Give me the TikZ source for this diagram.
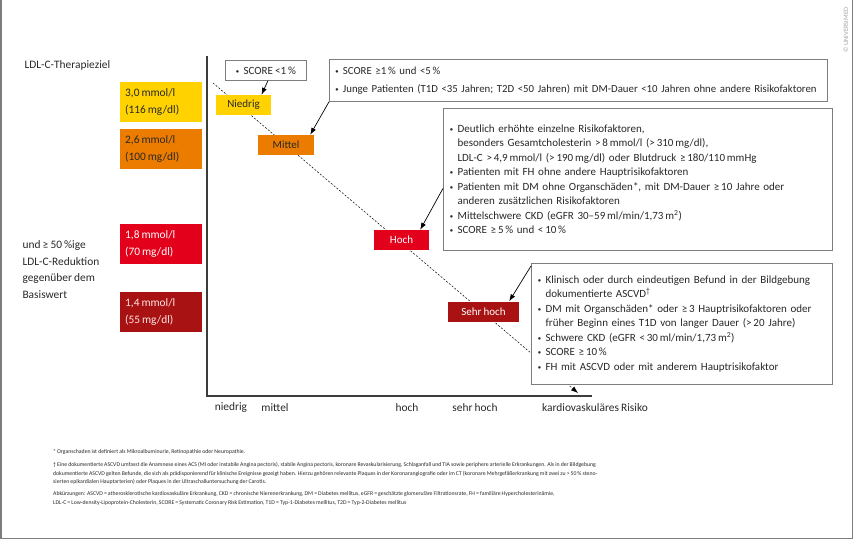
\documentclass[tikz,border=0pt]{standalone}
\usepackage{fontspec}
\setmainfont{Carlito}[WordSpace=0.85]
\usepackage{tikz}
\usetikzlibrary{arrows.meta,positioning,calc}
\definecolor{txtgray}{RGB}{40,40,40}
\definecolor{levelyellow}{RGB}{255,210,0}
\definecolor{levelorange}{RGB}{236,124,0}
\definecolor{levelred}{RGB}{226,0,26}
\definecolor{leveldark}{RGB}{168,18,18}
\definecolor{boxgray}{RGB}{125,125,125}
\definecolor{axisgray}{RGB}{60,60,60}
\newcommand{\bul}{\makebox[0.7em][l]{\raisebox{0.2ex}{\scalebox{0.6}{$\bullet$}}}}
\newcommand{\ind}{\hspace*{0.7em}}

\tikzset{
  goalbox/.style={anchor=north west, minimum width=82pt, minimum height=40pt, inner xsep=5pt,
    text width=72pt, align=left, font=\fontsize{11.4}{17}\selectfont},
  levelbox/.style={minimum height=20pt, inner sep=0pt, font=\fontsize{11}{12}\selectfont},
  critbox/.style={draw=boxgray, line width=0.8pt, fill=white, anchor=north west, inner xsep=6pt,
    align=left, text=txtgray, font=\fontsize{11}{14.5}\selectfont},
  pointer/.style={-{Latex[length=7pt,width=5pt]}, line width=0.7pt, black},
  axislabel/.style={text=txtgray, font=\fontsize{11.4}{12}\selectfont},
  footline/.style={anchor=west, inner sep=0pt, text=txtgray, font=\fontsize{5.75}{7}\selectfont}
}

\begin{document}
\begin{tikzpicture}[x=1pt, y=-1pt]
  \useasboundingbox (0,0) rectangle (854,540);
  % outer frame
  \draw[boxgray, line width=1.2pt] (1,0) -- (1,538.5) -- (852.5,538.5) -- (852.5,0);
  \node[rotate=90, text=gray!70, font=\fontsize{6.6}{7}\selectfont] (copy) at (846,30) {\textcopyright\ UNIVERSIMED};

  % left column
  \node[anchor=west, text=txtgray, font=\fontsize{11.4}{12}\selectfont] (goaltitle) at (21,65) {LDL-C-Therapieziel};
  \node[anchor=north west, text=txtgray, align=left, font=\fontsize{11.4}{16.7}\selectfont] (reduction) at (19,237)
    {und ≥ 50\,\%ige\\LDL-C-Reduktion\\gegenüber dem\\Basiswert};

  \node[goalbox, fill=levelyellow, text=txtgray] (goal1) at (120,82) {3,0\,mmol/l\\(116\,mg/dl)};
  \node[goalbox, fill=levelorange, text=txtgray] (goal2) at (120,129) {2,6\,mmol/l\\(100\,mg/dl)};
  \node[goalbox, fill=levelred, text=white] (goal3) at (120,224) {1,8\,mmol/l\\(70\,mg/dl)};
  \node[goalbox, fill=leveldark, text=white!90!red] (goal4) at (120,292) {1,4\,mmol/l\\(55\,mg/dl)};

  % axes
  \coordinate (ytop) at (207,56);
  \coordinate (orig) at (207,396);
  \coordinate (xend) at (592,396);
  \draw[axisgray, line width=1.5pt] (ytop) -- (orig) -- (xend);

  % risk trend
  \coordinate (trendstart) at (213,83);
  \coordinate (trendend) at (578,393);
  \draw[pointer, line width=0.5pt, dash pattern=on 2pt off 1.6pt] (trendstart) -- (trendend);

  % risk levels
  \node[levelbox, fill=levelyellow, text=txtgray, minimum width=55pt] (niedrig) at (243.5,105) {Niedrig};
  \node[levelbox, fill=levelorange, text=txtgray, minimum width=56pt] (mittel) at (286,145) {Mittel};
  \node[levelbox, fill=levelred, text=white, minimum width=55pt] (hoch) at (401.5,240) {Hoch};
  \node[levelbox, fill=leveldark, text=white, minimum width=71pt] (sehrhoch) at (483.5,311.5) {Sehr hoch};

  % criteria
  \node[critbox, minimum width=81pt, minimum height=20pt, inner xsep=0pt, align=center] (crit1) at (225,60)
    {\bul SCORE <1\,\%};
  \node[critbox, minimum width=496pt, minimum height=42pt, text width=486pt, font=\fontsize{10.8}{18}\selectfont] (crit2) at (329,59)
    {\bul SCORE ≥1\,\% und <5\,\%\\
     \bul Junge Patienten (T1D <35 Jahren; T2D <50 Jahren) mit DM-Dauer <10 Jahren ohne andere Risikofaktoren};
  \node[critbox, minimum width=389pt, minimum height=141pt, text width=376pt] (crit3) at (443,108.5)
    {\bul Deutlich erhöhte einzelne Risikofaktoren,\\
     \ind besonders Gesamtcholesterin >\,8\,mmol/l (>\,310\,mg/dl),\\
     \ind LDL-C >\,4,9\,mmol/l (>\,190\,mg/dl) oder Blutdruck ≥\,180/110\,mmHg\\
     \bul Patienten mit FH ohne andere Hauptrisikofaktoren\\
     \bul Patienten mit DM ohne Organschäden*, mit DM-Dauer ≥\,10 Jahre oder\\
     \ind anderen zusätzlichen Risikofaktoren\\
     \bul Mittelschwere CKD (eGFR 30--59\,ml/min/1,73\,m\textsuperscript{2})\\
     \bul SCORE ≥\,5\,\% und <\,10\,\%};
  \node[critbox, minimum width=301pt, minimum height=121pt, text width=288pt] (crit4) at (531,263)
    {\bul Klinisch oder durch eindeutigen Befund in der Bildgebung\\
     \ind dokumentierte ASCVD\textsuperscript{†}\\
     \bul DM mit Organschäden* oder ≥\,3 Hauptrisikofaktoren oder\\
     \ind früher Beginn eines T1D von langer Dauer (>\,20 Jahre)\\
     \bul Schwere CKD (eGFR <\,30\,ml/min/1,73\,m\textsuperscript{2})\\
     \bul SCORE ≥\,10\,\%\\
     \bul FH mit ASCVD oder mit anderem Hauptrisikofaktor};

  \draw[pointer] ([xshift=2pt]crit1.south) -- ([xshift=18pt]niedrig.north);
  \draw[pointer] (crit2.south west) -- ([xshift=-4pt]mittel.north east);
  \draw[pointer] ([yshift=-9pt]crit3.west) -- ([xshift=-9pt]hoch.north east);
  \draw[pointer] ([yshift=-3pt]crit4.north west) -- ([xshift=-10pt]sehrhoch.north east);

  % axis labels
  \node[axislabel] (lniedrig) at (231,408) {niedrig};
  \node[axislabel] (lmittel) at (275,408) {mittel};
  \node[axislabel] (lhoch) at (407,408) {hoch};
  \node[axislabel] (lsehrhoch) at (475,408) {sehr hoch};
  \node[axislabel] (lrisk) at (595,408) {kardiovaskuläres Risiko};

  % footnotes
  \node[footline] (foot1) at (53,452) {* Organschaden ist definiert als Mikroalbuminurie, Retinopathie oder Neuropathie.};
  \node[footline] (foot2) at (53,465) {† Eine dokumentierte ASCVD umfasst die Anamnese eines ACS (MI oder instabile Angina pectoris), stabile Angina pectoris, koronare Revaskularisierung, Schlaganfall und TIA sowie periphere arterielle Erkrankungen. Als in der Bildgebung};
  \node[footline] (foot3) at (53,473.5) {dokumentierte ASCVD gelten Befunde, die sich als prädisponierend für klinische Ereignisse gezeigt haben. Hierzu gehören relevante Plaques in der Koronarangiografie oder im CT (koronare Mehrgefäßerkrankung mit zwei zu >\,50\,\% steno-};
  \node[footline] (foot4) at (53,482) {sierten epikardialen Hauptarterien) oder Plaques in der Ultraschalluntersuchung der Carotis.};
  \node[footline] (foot5) at (53,494) {Abkürzungen: ASCVD = atherosklerotische kardiovaskuläre Erkrankung, CKD = chronische Nierenerkrankung, DM = Diabetes mellitus, eGFR = geschätzte glomeruläre Filtrationsrate, FH = familiäre Hypercholesterinämie,};
  \node[footline] (foot6) at (53,502.5) {LDL-C = Low-density-Lipoprotein-Cholesterin, SCORE = Systematic Coronary Risk Estimation, T1D = Typ-1-Diabetes mellitus, T2D = Typ-2-Diabetes mellitus};
\end{tikzpicture}
\end{document}
